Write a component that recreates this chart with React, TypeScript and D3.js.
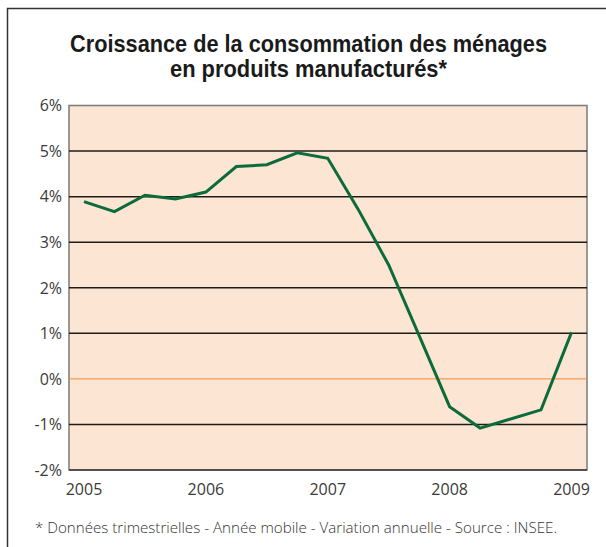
import * as d3 from 'd3';
import { useEffect, useRef } from 'react';

// quarters, 2005 T1 .. 2009 T1
const quarters = [
  2005, 2005.25, 2005.5, 2005.75, 2006, 2006.25, 2006.5, 2006.75, 2007,
  2007.25, 2007.5, 2007.75, 2008, 2008.25, 2008.5, 2008.75, 2009,
];
const growth = [
  3.89, 3.67, 4.03, 3.95, 4.1, 4.66, 4.7, 4.96, 4.84, 3.72, 2.5, 0.95, -0.61,
  -1.08, -0.88, -0.68, 1.02,
];
const yearTicks = [2005, 2006, 2007, 2008, 2009];
const pctTicks = [-2, -1, 0, 1, 2, 3, 4, 5, 6];

const titleLines = [
  'Croissance de la consommation des ménages',
  'en produits manufacturés*',
];
const footnote =
  '* Données trimestrielles - Année mobile - Variation annuelle - Source : INSEE.';

const W = 606;
const H = 547;

export default function App() {
  const ref = useRef<SVGSVGElement>(null);

  useEffect(() => {
    const svg = d3.select(ref.current);
    svg.selectAll('*').remove();

    const plot = { left: 69, right: 587, top: 105.5, bottom: 470 };

    const x = d3.scaleLinear().domain([2005, 2009]).range([84, 571.5]);
    const y = d3
      .scaleLinear()
      .domain([-2, 6])
      .range([plot.bottom, plot.top]);

    svg.append('rect').attr('width', W).attr('height', H).attr('fill', '#fff');

    // outer frame (top and left only, rest is cropped)
    svg
      .append('path')
      .attr('d', `M7.5,${H} V8.5 H${W}`)
      .attr('fill', 'none')
      .attr('stroke', '#333')
      .attr('stroke-width', 1.5);

    // title
    const title = svg
      .append('text')
      .attr('text-anchor', 'middle')
      .attr('font-family', '"Liberation Sans Narrow", "Liberation Sans", sans-serif')
      .attr('font-weight', 'bold')
      .attr('font-size', 24)
      .attr('fill', '#1a1a1a');
    title
      .append('tspan')
      .attr('x', 308.5)
      .attr('y', 52)
      .attr('textLength', 477)
      .attr('lengthAdjust', 'spacingAndGlyphs')
      .text(titleLines[0]);
    title
      .append('tspan')
      .attr('x', 308.5)
      .attr('y', 77)
      .attr('textLength', 277)
      .attr('lengthAdjust', 'spacingAndGlyphs')
      .text(titleLines[1]);

    // plot background
    svg
      .append('rect')
      .attr('x', plot.left)
      .attr('y', plot.top)
      .attr('width', plot.right - plot.left)
      .attr('height', plot.bottom - plot.top)
      .attr('fill', '#fde5d3')
      .attr('stroke', '#7a7a7a')
      .attr('stroke-width', 1.5);

    // gridlines
    svg
      .append('g')
      .selectAll('line')
      .data(pctTicks.filter((d) => d !== 6))
      .join('line')
      .attr('x1', plot.left)
      .attr('x2', plot.right)
      .attr('y1', (d) => y(d))
      .attr('y2', (d) => y(d))
      .attr('stroke', (d) => (d === 0 ? '#f28a35' : d === -2 ? '#3a3a3a' : '#1c1c1c'))
      .attr('stroke-width', (d) => (d === 0 ? 1 : 1.5));

    // y labels
    svg
      .append('g')
      .attr('font-family', '"Open Sans", sans-serif')
      .attr('font-size', 16)
      .attr('fill', '#3a3a3a')
      .attr('text-anchor', 'end')
      .selectAll('text')
      .data(pctTicks)
      .join('text')
      .attr('x', 62)
      .attr('y', (d) => y(d))
      .attr('dy', '0.36em')
      .text((d) => `${d}%`);

    // x labels
    svg
      .append('g')
      .attr('font-family', '"Open Sans", sans-serif')
      .attr('font-size', 16)
      .attr('fill', '#3a3a3a')
      .attr('text-anchor', 'middle')
      .selectAll('text')
      .data(yearTicks)
      .join('text')
      .attr('x', (d) => x(d))
      .attr('y', 495)
      .text((d) => d);

    // the line
    const line = d3
      .line<number>()
      .x((_, i) => x(quarters[i]))
      .y((d) => y(d));
    svg
      .append('path')
      .datum(growth)
      .attr('d', line)
      .attr('fill', 'none')
      .attr('stroke', '#0b6b3a')
      .attr('stroke-width', 3)
      .attr('stroke-linejoin', 'miter');

    // footnote
    svg
      .append('text')
      .attr('x', 35)
      .attr('y', 533)
      .attr('font-family', '"Open Sans", sans-serif')
      .attr('font-weight', 300)
      .attr('font-size', 14)
      .attr('fill', '#333')
      .attr('textLength', 522)
      .attr('lengthAdjust', 'spacingAndGlyphs')
      .text(footnote);
  }, []);

  return (
    <svg
      ref={ref}
      width={W}
      height={H}
      style={{ position: 'absolute', left: 0, top: 0, display: 'block' }}
    />
  );
}
